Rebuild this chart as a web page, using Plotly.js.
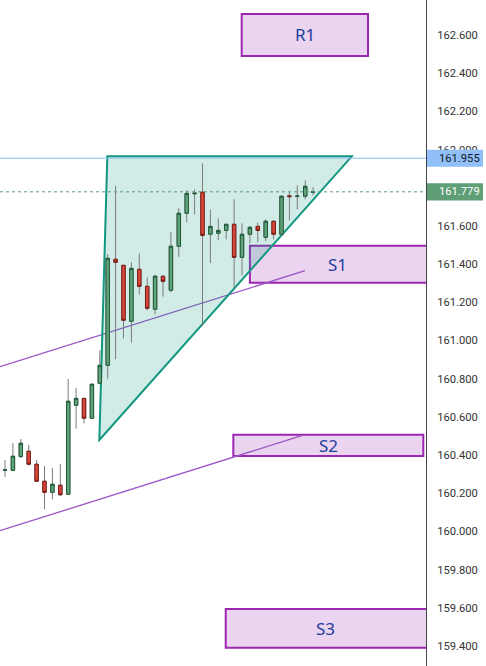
<!DOCTYPE html>
<html>
<head>
<meta charset="utf-8">
<script src="https://cdn.plot.ly/plotly-3.0.1.min.js"></script>
<style>
html,body{margin:0;padding:0;background:#ffffff;}
#chart{width:486px;height:666px;}
</style>
</head>
<body>
<div id="chart"></div>
<script>
// ---- candle data (bar index, OHLC) ----
const bars  = [0,1,2,3,4,5,6,7,8,9,10,11,12,13,14,15,16,17,18,19,20,21,22,23,24,25,26,27,28,29,30,31,32,33,34,35,36,37,38,39];
const open  = [160.321,160.320,160.392,160.420,160.352,160.263,160.205,160.242,160.195,160.661,160.697,160.593,160.776,160.870,161.426,161.394,161.101,161.373,161.284,161.164,161.337,161.263,161.494,161.667,161.769,161.777,161.557,161.562,161.577,161.609,161.436,161.557,161.598,161.541,161.625,161.557,161.758,161.755,161.756,161.776];
const high  = [160.374,160.462,160.484,160.453,160.374,160.343,160.332,160.353,160.799,160.751,160.700,160.776,160.950,161.453,161.810,161.396,161.410,161.457,161.331,161.342,161.339,161.569,161.693,161.787,161.792,161.928,161.687,161.640,161.609,161.740,161.614,161.600,161.619,161.635,161.627,161.758,161.777,161.813,161.839,161.803];
const low   = [160.285,160.318,160.386,160.346,160.259,160.116,160.168,160.187,160.195,160.538,160.566,160.590,160.772,160.800,160.902,161.010,160.989,161.242,161.158,161.137,161.230,161.253,161.439,161.619,161.661,161.076,161.405,161.525,161.530,161.274,161.342,161.509,161.515,161.520,161.530,161.551,161.630,161.687,161.740,161.761];
const close = [160.323,160.394,160.462,160.352,160.263,160.205,160.247,160.192,160.682,160.697,160.593,160.771,160.870,161.431,161.410,161.106,161.378,161.284,161.169,161.337,161.310,161.494,161.667,161.771,161.772,161.551,161.598,161.577,161.609,161.436,161.557,161.593,161.577,161.625,161.557,161.756,161.754,161.757,161.808,161.779];

// ---- drawings ----
const triangleX = [12.95, 43.9, 11.94];
const triangleY = [161.965, 161.965, 160.479];

const trendX0 = [-0.633, -0.633];
const trendY0 = [160.863, 160.004];
const trendX1 = [37.97, 37.56];
const trendY1 = [161.366, 160.502];

const levelNames  = ['R1', 'S1', 'S2', 'S3'];
const levelStart  = [29.96, 31.0, 28.9, 27.94];
const levelEnd    = [45.95, 53.6, 52.95, 53.6];
const levelTop    = [162.711, 161.497, 160.507, 159.594];
const levelBottom = [162.491, 161.303, 160.395, 159.391];

const markedPrice = 161.955;
const lastPrice   = 161.779;

const tickVals = [159.4,159.6,159.8,160.0,160.2,160.4,160.6,160.8,161.0,161.2,161.4,161.6,161.8,162.0,162.2,162.4,162.6];

const xRange = [-0.633, 53.29];
const yRange = [159.295, 162.784];

// ---- traces ----
const bodyHigh = open.map((o, i) => Math.max(o, close[i]));
const bodyLow  = open.map((o, i) => Math.min(o, close[i]));

const wickColor = '#7b7b7b';
const wicks = {
  type: 'candlestick', x: bars, open: open, high: high, low: low, close: close,
  increasing: {line: {color: wickColor, width: 1}, fillcolor: wickColor},
  decreasing: {line: {color: wickColor, width: 1}, fillcolor: wickColor},
  whiskerwidth: 0, hoverinfo: 'skip', showlegend: false
};
const bodies = {
  type: 'candlestick', x: bars, open: open, high: bodyHigh, low: bodyLow, close: close,
  increasing: {line: {color: '#1f5a3a', width: 1}, fillcolor: '#60a37a'},
  decreasing: {line: {color: '#7a1c15', width: 1}, fillcolor: '#d8473a'},
  whiskerwidth: 0, hoverinfo: 'skip', showlegend: false
};

// ---- shapes ----
const shapes = [];
levelNames.forEach((n, i) => {
  shapes.push({type: 'rect', xref: 'x', yref: 'y', layer: 'below',
    x0: levelStart[i], x1: levelEnd[i], y0: levelBottom[i], y1: levelTop[i],
    fillcolor: 'rgba(156,39,176,0.2)', line: {color: '#9c27b0', width: 2}});
});
trendX0.forEach((x, i) => {
  shapes.push({type: 'line', xref: 'x', yref: 'y', layer: 'below',
    x0: x, y0: trendY0[i], x1: trendX1[i], y1: trendY1[i],
    line: {color: '#9a55c6', width: 1.3}});
});
shapes.push({type: 'path', xref: 'x', yref: 'y', layer: 'below',
  path: 'M' + triangleX[0] + ',' + triangleY[0] + ' L' + triangleX[1] + ',' + triangleY[1] + ' L' + triangleX[2] + ',' + triangleY[2] + ' Z',
  fillcolor: 'rgba(8,153,129,0.19)', line: {color: '#11977f', width: 2}});
shapes.push({type: 'line', xref: 'paper', yref: 'y', layer: 'above',
  x0: 0, x1: 1, y0: markedPrice, y1: markedPrice, line: {color: '#90bdf5', width: 1}});
shapes.push({type: 'line', xref: 'paper', yref: 'y', layer: 'above',
  x0: 0, x1: 1, y0: lastPrice, y1: lastPrice, line: {color: '#5c9c74', width: 1, dash: 'dot'}});
// axis price labels
const lblX0 = 427 / 426, lblX1 = 483 / 426, lblH = 0.045;
shapes.push({type: 'rect', xref: 'paper', yref: 'y', layer: 'above',
  x0: lblX0, x1: lblX1, y0: markedPrice - lblH, y1: markedPrice + lblH,
  fillcolor: '#91bff8', line: {width: 0}});
shapes.push({type: 'rect', xref: 'paper', yref: 'y', layer: 'above',
  x0: lblX0, x1: lblX1, y0: lastPrice - lblH, y1: lastPrice + lblH,
  fillcolor: '#5f9e76', line: {width: 0}});

// ---- annotations ----
const labelFont = {family: 'Noto Sans', size: 17, color: '#1d3d9c'};
const annotations = levelNames.map((n, i) => ({
  xref: 'x', yref: 'y',
  x: (levelStart[i] + Math.min(levelEnd[i], xRange[1])) / 2,
  y: (levelTop[i] + levelBottom[i]) / 2,
  text: n, showarrow: false, font: labelFont, xanchor: 'center', yanchor: 'middle'
}));
const tickFont = {family: 'Roboto', size: 11.2, color: '#333333'};
const textX = 436.5 / 426;
annotations.push({xref: 'paper', yref: 'y', x: textX, y: markedPrice, xanchor: 'left', yanchor: 'middle',
  text: markedPrice.toFixed(3), showarrow: false, font: {family: 'Roboto', size: 11.2, color: '#131722'}});
annotations.push({xref: 'paper', yref: 'y', x: textX, y: lastPrice, xanchor: 'left', yanchor: 'middle',
  text: lastPrice.toFixed(3), showarrow: false, font: {family: 'Roboto', size: 11.2, color: '#ffffff'}});
annotations.push({xref: 'paper', yref: 'paper', x: textX, xanchor: 'left', yanchor: 'middle',
  y: (162.8 - yRange[0]) / (yRange[1] - yRange[0]),
  text: '162.800', showarrow: false, font: tickFont});

const layout = {
  width: 486, height: 666,
  margin: {l: 0, r: 60, t: 0, b: 0, pad: 0},
  paper_bgcolor: '#ffffff', plot_bgcolor: '#ffffff',
  showlegend: false, boxgap: 0.38,
  xaxis: {range: xRange, visible: false, rangeslider: {visible: false}, fixedrange: true},
  yaxis: {side: 'right', range: yRange, tickvals: tickVals, tickformat: '.3f',
    showgrid: false, zeroline: false, showline: true, linecolor: '#444444', linewidth: 1,
    ticks: '', ticklabelstandoff: 8, tickfont: tickFont, fixedrange: true},
  shapes: shapes,
  annotations: annotations
};

Plotly.newPlot('chart', [wicks, bodies], layout, {displayModeBar: false, staticPlot: true});
</script>
</body>
</html>
